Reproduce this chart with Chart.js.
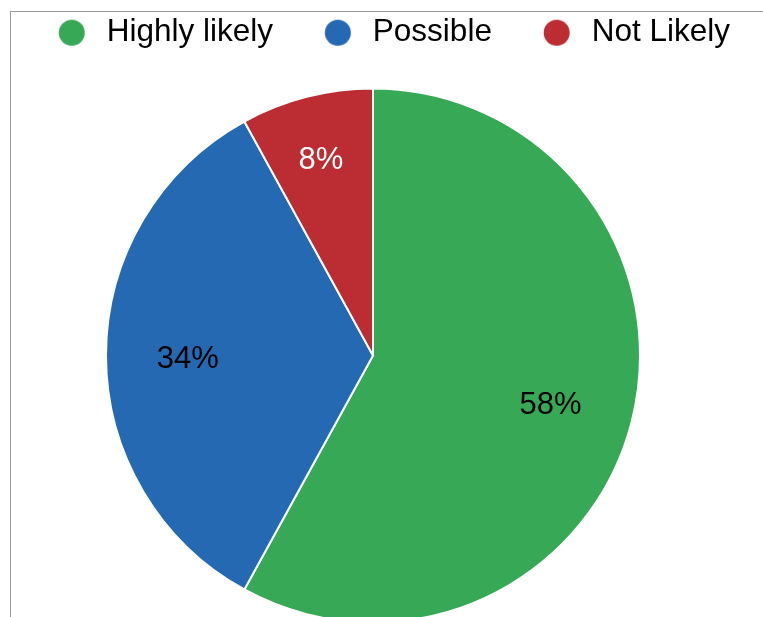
<!DOCTYPE html>
<html>
<head>
<meta charset="utf-8">
<script src="https://cdn.jsdelivr.net/npm/chart.js@4/dist/chart.umd.min.js"></script>
<style>
  html, body { margin: 0; padding: 0; background: #fff; overflow: hidden; width: 763px; height: 617px; }
  #frame { position: absolute; left: 10px; top: 11px; width: 900px; height: 800px;
           border-left: 1px solid #9a9a9a; border-top: 1px solid #9a9a9a; }
  #wrap { position: absolute; left: 0; top: 0; width: 763px; height: 660px; }
</style>
</head>
<body>
<div id="frame"></div>
<div id="wrap"><canvas id="chart"></canvas></div>
<script>
const categories = ['Highly likely', 'Possible', 'Not Likely'];
const shares = [58, 34, 8];
const sliceColors = ['#37a856', '#2569b2', '#bb2d32'];
const labelColors = ['#000', '#000', '#fff'];

// legend dots: circle drawn inside a wider canvas to get the spacing right
function makeDot(color) {
    const c = document.createElement('canvas');
    c.width = 75;
    c.height = 28;
    const g = c.getContext('2d');
    g.fillStyle = color;
    g.beginPath();
    g.arc(55.75, 14, 13, 0, Math.PI * 2);
    g.fill();
    return c;
}
const dots = sliceColors.map(makeDot);

// percentage labels inside slices
const sliceLabels = {
    id: 'sliceLabels',
    afterDatasetsDraw(chart) {
        const g = chart.ctx;
        const meta = chart.getDatasetMeta(0);
        g.save();
        g.font = '31px "Liberation Sans", Arial, sans-serif';
        g.textAlign = 'center';
        g.textBaseline = 'middle';
        meta.data.forEach((arc, i) => {
            const p = arc.getProps(['x', 'y', 'startAngle', 'endAngle', 'outerRadius'], true);
            const mid = (p.startAngle + p.endAngle) / 2;
            const f = shares[i] < 10 ? 0.77 : 0.69;
            g.fillStyle = labelColors[i];
            g.fillText(shares[i] + '%', p.x + Math.cos(mid) * p.outerRadius * f - 1, p.y + Math.sin(mid) * p.outerRadius * f + 4);
        });
        g.restore();
    }
};

new Chart(document.getElementById('chart'), {
    type: 'pie',
    data: {
        labels: categories,
        datasets: [{
            data: shares,
            backgroundColor: sliceColors,
            borderColor: '#fff',
            borderWidth: 2,
            radius: 267
        }]
    },
    options: {
        responsive: true,
        maintainAspectRatio: false,
        animation: false,
        layout: { padding: { left: 0, right: 17, top: 8, bottom: 7.5 } },
        plugins: {
            tooltip: { enabled: false },
            legend: {
                position: 'top',
                labels: {
                    usePointStyle: true,
                    pointStyleWidth: 75,
                    padding: 9,
                    color: '#000',
                    font: { family: '"Liberation Sans", Arial, sans-serif', size: 31.5 },
                    generateLabels: chart =>
                        Chart.overrides.pie.plugins.legend.labels.generateLabels(chart)
                            .map((item, i) => ({ ...item, pointStyle: dots[i] }))
                }
            }
        }
    },
    plugins: [sliceLabels]
});
</script>
</body>
</html>
